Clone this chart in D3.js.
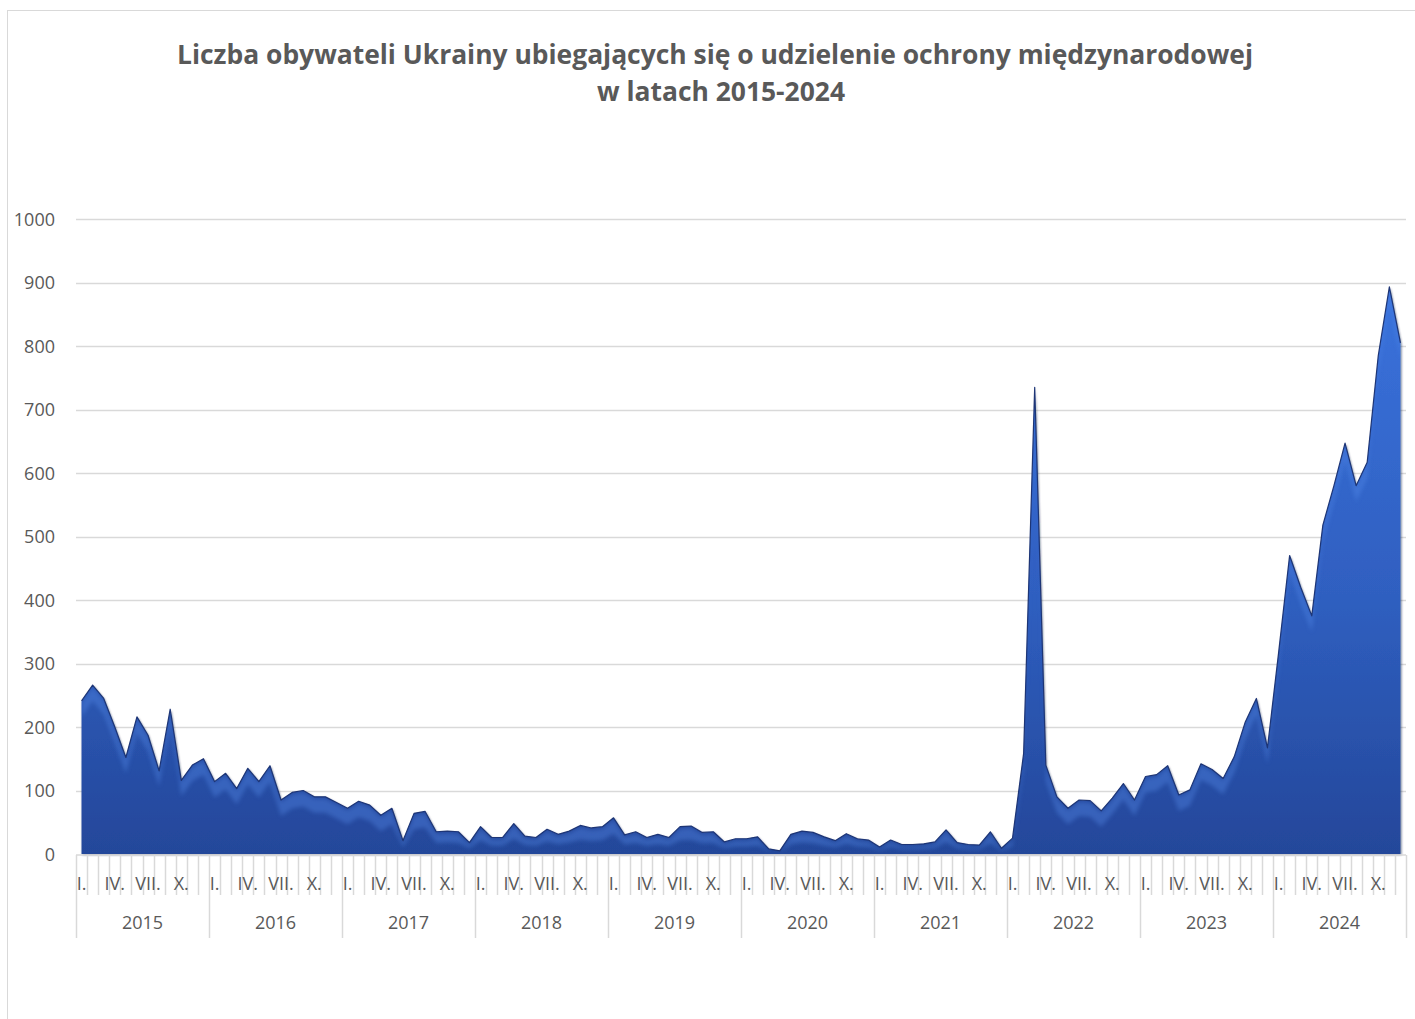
<!DOCTYPE html>
<html>
<head>
<meta charset="utf-8">
<script src="https://cdn.jsdelivr.net/npm/d3@7"></script>
<style>
  html, body { margin: 0; padding: 0; background: #ffffff; }
  svg { display: block; }
</style>
</head>
<body>
<svg id="chart" width="1415" height="1019"></svg>
<script>
// ---- data ----
const years = ["2015","2016","2017","2018","2019","2020","2021","2022","2023","2024"];
const monthLabels = ["I.","","","IV.","","","VII.","","","X.","",""];
const yTicks = [0,100,200,300,400,500,600,700,800,900,1000];
const v2015 = [241, 266, 245, 200, 152, 216, 187, 131, 228, 116, 140, 150];
const v2016 = [114, 127, 103, 135, 114, 139, 85, 97, 100, 90, 90, 81];
const v2017 = [72, 83, 77, 61, 72, 21, 64, 67, 35, 36, 35, 18];
const v2018 = [43, 26, 26, 48, 28, 26, 39, 31, 36, 45, 41, 43];
const v2019 = [57, 30, 35, 26, 31, 26, 43, 44, 34, 35, 19, 24];
const v2020 = [24, 27, 8, 5, 31, 36, 34, 27, 21, 32, 24, 22];
const v2021 = [11, 22, 15, 15, 16, 19, 38, 18, 15, 14, 35, 9];
const v2022 = [25, 158, 735, 140, 90, 72, 85, 84, 68, 88, 111, 85];
const v2023 = [122, 125, 139, 93, 101, 142, 133, 119, 153, 208, 245, 167];
const v2024 = [316, 470, 420, 375, 518, 580, 647, 580, 617, 785, 893, 805];
const titleLines = ["Liczba obywateli Ukrainy ubiegających się o udzielenie ochrony międzynarodowej", "w latach 2015-2024"];

(function () {
const values = [].concat(v2015, v2016, v2017, v2018, v2019, v2020, v2021, v2022, v2023, v2024);
const data = values.map((v, i) => ({ i, year: years[Math.floor(i / 12)], m: i % 12, v }));

// ---- layout ----
const svg = d3.select("#chart");
const pLeft = 76, pRight = 1406, pTop = 219, pBottom = 854;
const textColor = "#595959", gridColor = "#d9d9d9";
const font = "'Open Sans', 'Noto Sans', sans-serif";

// chart border
svg.append("rect").attr("x", 7.5).attr("y", 10.5).attr("width", 1500).attr("height", 1100)
  .attr("fill", "#fff").attr("stroke", "#d9d9d9").attr("stroke-width", 1);

const x = d3.scaleBand().domain(d3.range(values.length)).range([pLeft, pRight]).paddingInner(0).paddingOuter(0);
const cx = i => x(i) + x.bandwidth() / 2;
const y = d3.scaleLinear().domain([0, 1000]).range([pBottom, pTop]);

// title
const title = svg.append("g").attr("font-family", font).attr("font-weight", 700)
  .attr("fill", textColor).attr("text-anchor", "middle");
title.append("text").attr("x", 715).attr("y", 64).attr("font-size", 26)
  .attr("textLength", 1076).attr("lengthAdjust", "spacingAndGlyphs").text(titleLines[0]);
title.append("text").attr("x", 721).attr("y", 101).attr("font-size", 26)
  .attr("textLength", 248).attr("lengthAdjust", "spacingAndGlyphs").text(titleLines[1]);

// gridlines
svg.append("g").selectAll("line").data(yTicks.filter(t => t > 0)).join("line")
  .attr("x1", pLeft).attr("x2", pRight)
  .attr("y1", d => Math.round(y(d)) + 0.5).attr("y2", d => Math.round(y(d)) + 0.5)
  .attr("stroke", gridColor).attr("stroke-width", 1.5);

// y axis labels
const yAxis = d3.axisLeft(y).tickValues(yTicks).tickFormat(d3.format("d")).tickSize(0).tickPadding(0);
const gy = svg.append("g").attr("transform", "translate(55,0)").call(yAxis);
gy.select(".domain").remove();
gy.selectAll("text").attr("font-family", font).attr("font-size", 18).attr("fill", textColor).attr("dy", "0.34em");

// area
const defs = svg.append("defs");
const grad = defs.append("linearGradient").attr("id", "areaGrad")
  .attr("gradientUnits", "userSpaceOnUse").attr("x1", 0).attr("y1", y(900)).attr("x2", 0).attr("y2", pBottom);
grad.append("stop").attr("offset", "0%").attr("stop-color", "#3a72dc");
grad.append("stop").attr("offset", "55%").attr("stop-color", "#2f5fc0");
grad.append("stop").attr("offset", "100%").attr("stop-color", "#24479a");

const shadow = defs.append("filter").attr("id", "shadow").attr("x", "-5%").attr("y", "-5%").attr("width", "110%").attr("height", "110%");
shadow.append("feDropShadow").attr("dx", 1).attr("dy", 1).attr("stdDeviation", 1.2).attr("flood-color", "#0a1a40").attr("flood-opacity", 0.6);

const blur = defs.append("filter").attr("id", "soft");
blur.append("feGaussianBlur").attr("stdDeviation", 2);

const clip = defs.append("clipPath").attr("id", "areaClip");

const area = d3.area().x(d => cx(d.i)).y0(y(0)).y1(d => y(d.v)).curve(d3.curveLinear);
clip.append("path").datum(data).attr("d", area);
svg.append("path").datum(data).attr("d", area).attr("fill", "url(#areaGrad)").attr("filter", "url(#shadow)");

// highlight band (bevel imitation)
const hi = d3.area().x(d => cx(d.i)).y0(d => y(d.v) + Math.min(16, (y(0) - y(d.v)) * 0.5)).y1(d => y(d.v) + 2).curve(d3.curveLinear);
svg.append("g").attr("clip-path", "url(#areaClip)")
  .append("path").datum(data).attr("d", hi).attr("fill", "#5a90ee").attr("opacity", 0.35).attr("filter", "url(#soft)");

const topLine = d3.line().x(d => cx(d.i)).y(d => y(d.v));
svg.append("path").datum(data).attr("d", topLine).attr("fill", "none")
  .attr("stroke", "#1d3576").attr("stroke-width", 1.2).attr("stroke-linejoin", "round");

// x axis baseline
svg.append("line").attr("x1", pLeft).attr("x2", pRight).attr("y1", pBottom + 1).attr("y2", pBottom + 1)
  .attr("stroke", gridColor).attr("stroke-width", 1.5);

// month ticks
const boundaries = d3.range(values.length + 1);
svg.append("g").selectAll("line").data(boundaries).join("line")
  .attr("x1", d => Math.round(d < values.length ? x(d) : pRight) + 0.5)
  .attr("x2", d => Math.round(d < values.length ? x(d) : pRight) + 0.5)
  .attr("y1", pBottom + 1)
  .attr("y2", d => d % 12 === 0 ? 938 : 895)
  .attr("stroke", gridColor).attr("stroke-width", 1.5);

// month labels
svg.append("g").selectAll("text").data(data.filter(d => monthLabels[d.m] !== "")).join("text")
  .attr("x", d => cx(d.i)).attr("y", 890)
  .attr("text-anchor", "middle").attr("font-family", font).attr("font-size", 18).attr("fill", textColor)
  .text(d => monthLabels[d.m]);

// year labels
svg.append("g").selectAll("text").data(years).join("text")
  .attr("x", (d, k) => (x(k * 12) + (k * 12 + 12 < values.length ? x(k * 12 + 12) : pRight)) / 2)
  .attr("y", 929)
  .attr("text-anchor", "middle").attr("font-family", font).attr("font-size", 18).attr("fill", textColor)
  .text(d => d);
})();
</script>
</body>
</html>
